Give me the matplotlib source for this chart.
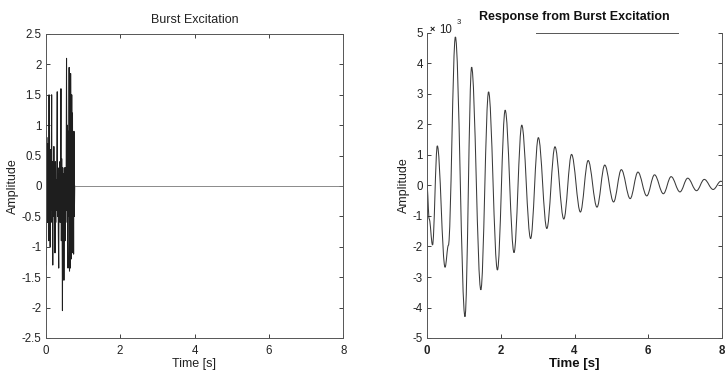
import numpy as np
import matplotlib
matplotlib.use("Agg")
import matplotlib.pyplot as plt
from matplotlib.path import Path
from matplotlib.patches import PathPatch
from matplotlib.ticker import FuncFormatter

plt.rcParams['font.family'] = ['Liberation Sans', 'DejaVu Sans']

# ---------------- data ----------------
burst_dt = 0.01
burst_values = [-0.3, 0.9, -1.3, 0.8, -0.6, 0.7, -0.2, 0.5, -0.9, 1.5,
                -0.7, 0.3, -1.0, 0.6, -0.4, 0.2, 1.5, -0.6, 0.4, -1.3,
                0.1, -0.5, 0.65, -0.3, 0.2, -1.1, 0.4, -0.6, 0.1, -0.4,
                0.5, 1.55, -0.5, 0.3, -0.8, -1.35, 0.2, -0.3, 0.4, -0.6,
                0.1, 1.6, -0.9, 0.45, -0.4, -2.05, 0.3, -0.5, 0.2, -1.55,
                -0.3, 0.3, -0.9, 0.3, -0.6, 0.2, 2.1, -0.4, 1.0, -0.9,
                -1.35, 0.9, -0.5, 1.95, -1.4, 1.0, -1.35, 1.85, 0.6, -1.2,
                1.5, -0.6, 1.2, -1.1, 0.5, -1.12, 0.9, -0.5, 0.0]
burst_end_time = 8.0

# response extrema (time [s], amplitude x1e-3)
resp_t = [0.00, 0.06, 0.15, 0.28, 0.49, 0.58, 0.77, 1.03, 1.21, 1.46,
          1.67, 1.91, 2.12, 2.36, 2.57, 2.81, 3.02, 3.25, 3.47, 3.71,
          3.92, 4.16, 4.37, 4.61, 4.82, 5.06, 5.27, 5.51, 5.72, 5.96,
          6.17, 6.41, 6.62, 6.86, 7.07, 7.31, 7.52, 7.76, 7.97, 8.00]
resp_y = [0.0, -1.1, -1.95, 1.3, -2.68, -1.96, 4.87, -4.3, 3.88, -3.42,
          3.07, -2.77, 2.47, -2.2, 1.98, -1.74, 1.57, -1.41, 1.27, -1.1,
          1.02, -0.87, 0.82, -0.71, 0.67, -0.54, 0.52, -0.43, 0.44, -0.34,
          0.35, -0.27, 0.29, -0.21, 0.24, -0.17, 0.2, -0.13, 0.14, 0.13]

left_yticks = [-2.5, -2, -1.5, -1, -0.5, 0, 0.5, 1, 1.5, 2, 2.5]
right_yticks = [-5, -4, -3, -2, -1, 0, 1, 2, 3, 4, 5]
xticks = [0, 2, 4, 6, 8]

# ---------------- figure ----------------
W, H = 728, 374
fig = plt.figure(figsize=(W / 100, H / 100), dpi=100)
ax1 = fig.add_axes([45.7 / W, 1 - 338 / H, (343.3 - 45.7) / W, (338 - 34) / H])
ax2 = fig.add_axes([427 / W, 1 - 338 / H, (722 - 427) / W, (338 - 33) / H])

fmt = FuncFormatter(lambda v, p: f"{v:g}")
spine_col = '#555555'
fs = 8.3

# left: burst
bt = list(np.arange(len(burst_values)) * burst_dt) + [burst_end_time]
bv = list(burst_values) + [0.0]
ax1.plot(bt[:-1], bv[:-1], color='#1e1e1e', lw=0.75)
ax1.plot(bt[-2:], bv[-2:], color='#777777', lw=0.6)
ax1.set_xlim(0, 8)
ax1.set_ylim(-2.5, 2.5)
ax1.set_xticks(xticks)
ax1.set_yticks(left_yticks)
ax1.xaxis.set_major_formatter(fmt)
ax1.yaxis.set_major_formatter(fmt)
ax1.tick_params(direction='in', length=3, width=0.6, top=True, right=True,
                labelsize=fs, colors='#222222', pad=3)
ax1.tick_params(axis='x', pad=5)
ax1.set_title('Burst Excitation', fontsize=9, pad=8, color='#222222')
ax1.set_xlabel('Time [s]', fontsize=9, labelpad=1, color='#222222')
ax1.set_ylabel('Amplitude', fontsize=9, labelpad=2, color='#222222')
for s in ax1.spines.values():
    s.set_color(spine_col)
    s.set_linewidth(0.7)

# right: response, smooth path through the extrema
k = 0.363
verts = [(resp_t[0], resp_y[0])]
codes = [Path.MOVETO]
for i in range(len(resp_t) - 1):
    t0, y0, t1, y1 = resp_t[i], resp_y[i], resp_t[i + 1], resp_y[i + 1]
    d = t1 - t0
    verts += [(t0 + k * d, y0), (t1 - k * d, y1), (t1, y1)]
    codes += [Path.CURVE4] * 3
ax2.add_patch(PathPatch(Path(verts, codes), fill=False, edgecolor='#3a3a3a', lw=0.75))
ax2.set_xlim(0, 8)
ax2.set_ylim(-5, 5)
ax2.set_xticks(xticks)
ax2.set_yticks(right_yticks)
ax2.xaxis.set_major_formatter(fmt)
ax2.yaxis.set_major_formatter(fmt)
ax2.tick_params(direction='in', length=3, width=0.6, top=False, right=True,
                labelsize=fs, colors='#222222', pad=3)
ax2.tick_params(axis='x', pad=5)
for lab in ax2.get_xticklabels():
    lab.set_fontweight('bold')
ax2.set_title('Response from Burst Excitation', fontsize=9, fontweight='bold',
              pad=9, color='#111111')
ax2.set_xlabel('Time [s]', fontsize=9.5, fontweight='bold', labelpad=1, color='#111111')
ax2.set_ylabel('Amplitude', fontsize=9, labelpad=2, color='#222222')
for s in ax2.spines.values():
    s.set_color(spine_col)
    s.set_linewidth(0.7)
ax2.spines['top'].set_bounds(2.95, 6.8)

# exponent marker
fig.text(432 / W, 1 - 29 / H, '\u00d7', fontsize=6.5, fontweight='bold',
         ha='center', va='center', color='#111111')
fig.text(446 / W, 1 - 30 / H, '10', fontsize=8.3, ha='center', va='center', color='#222222')
fig.text(459 / W, 1 - 22 / H, '3', fontsize=5.5, ha='center', va='center', color='#222222')

fig.savefig('out.png', dpi=100, facecolor='white')
